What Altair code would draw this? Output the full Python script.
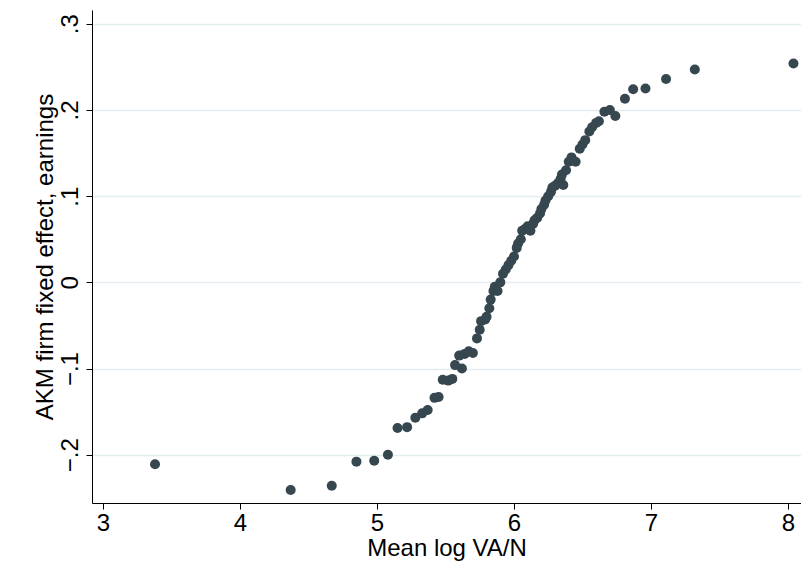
import altair as alt
import pandas as pd

x_vals = [3.38, 4.37, 4.67, 4.85, 4.98, 5.08, 5.15, 5.22, 5.28, 5.33, 5.37, 5.42, 5.45, 5.48,
          5.52, 5.55, 5.57, 5.62, 5.60, 5.64, 5.67, 5.70, 5.73, 5.75, 5.76, 5.79, 5.80, 5.82,
          5.83, 5.85, 5.86, 5.88, 5.90, 5.92, 5.94, 5.96, 5.98, 6.00, 6.02, 6.03, 6.05, 6.06,
          6.08, 6.10, 6.12, 6.14, 6.15, 6.17, 6.19, 6.20, 6.22, 6.23, 6.25, 6.27, 6.28, 6.30,
          6.32, 6.34, 6.35, 6.36, 6.38, 6.40, 6.42, 6.45, 6.48, 6.50, 6.52, 6.55, 6.57, 6.60,
          6.62, 6.66, 6.70, 6.74, 6.81, 6.87, 6.96, 7.11, 7.32, 8.04]
y_vals = [-0.211, -0.241, -0.236, -0.208, -0.207, -0.200, -0.169, -0.168, -0.157, -0.152,
          -0.148, -0.134, -0.133, -0.113, -0.114, -0.112, -0.096, -0.100, -0.085, -0.083,
          -0.080, -0.082, -0.065, -0.055, -0.045, -0.043, -0.040, -0.030, -0.020, -0.010,
          -0.005, -0.010, 0.000, 0.010, 0.015, 0.020, 0.025, 0.030, 0.040, 0.045, 0.050,
          0.060, 0.062, 0.065, 0.060, 0.068, 0.072, 0.075, 0.080, 0.085, 0.090, 0.095, 0.100,
          0.105, 0.110, 0.112, 0.115, 0.120, 0.125, 0.113, 0.130, 0.140, 0.145, 0.140, 0.155,
          0.160, 0.165, 0.175, 0.180, 0.185, 0.187, 0.198, 0.200, 0.193, 0.213, 0.224, 0.225,
          0.236, 0.247, 0.254]

df = pd.DataFrame({'x': x_vals, 'y': y_vals})

chart = alt.Chart(df).mark_circle(size=100, opacity=1, color='#37474f').encode(
    x=alt.X('x', title='Mean log VA/N',
            scale=alt.Scale(domain=[2.92, 8.095], nice=False, zero=False),
            axis=alt.Axis(values=[3, 4, 5, 6, 7, 8], grid=False, labelPadding=2)),
    y=alt.Y('y', title='AKM firm fixed effect, earnings',
            scale=alt.Scale(domain=[-0.256, 0.316], nice=False, zero=False),
            axis=alt.Axis(values=[-0.2, -0.1, 0, 0.1, 0.2, 0.3], grid=True, labelAngle=-90,
                          labelAlign='center', labelBaseline='bottom', labelPadding=4,
                          labelExpr="datum.value == 0 ? '0' : replace(format(datum.value, '.1f'), '0.', '.')")),
).properties(
    width=709, height=493,
    autosize=alt.AutoSizeParams(type='none'),
    padding={'left': 84, 'top': 2, 'right': 0, 'bottom': 70},
).configure_view(stroke=None).configure_axis(
    labelFont='Liberation Sans', titleFont='Liberation Sans',
    labelFontSize=24, titleFontSize=24, labelColor='black', titleColor='black',
    titleFontWeight='normal', domainColor='black', tickColor='black', tickSize=6,
    gridColor='#e3ecef', gridWidth=1.5, labelOverlap=False, titlePadding=1,
)

chart.save("out.html", embed_options={"renderer": "svg", "actions": False})
